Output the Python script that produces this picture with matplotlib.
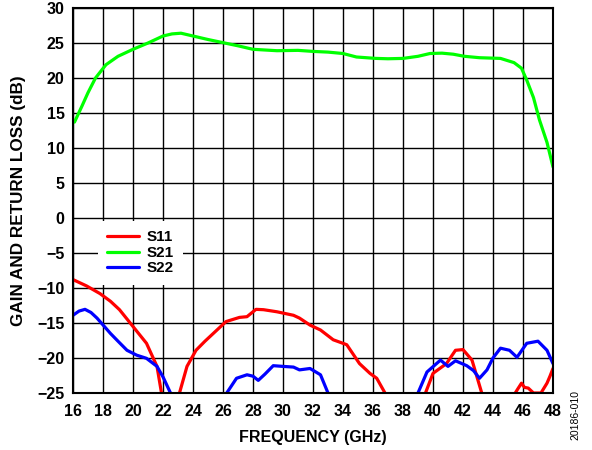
import matplotlib.pyplot as plt
import numpy as np

plt.rcParams['font.family'] = ['Liberation Sans', 'DejaVu Sans']
plt.rcParams['font.weight'] = 'bold'

# S21 gain (dB)
s21_f = [16.1, 16.6, 17.0, 17.5, 18.2, 19.0, 20.0, 21.0, 22.0, 22.6, 23.2, 24.0,
         25.0, 26.0, 27.0, 28.0, 29.6, 31.0, 32.0, 33.0, 34.0, 34.9, 36.2, 37.0,
         38.0, 39.0, 39.8, 40.6, 41.35, 42.1, 43.1, 44.5, 45.4, 45.9, 46.25, 46.7,
         47.1, 47.6, 48.0]
s21 = [13.7, 16.0, 17.9, 20.0, 21.9, 23.1, 24.1, 25.0, 26.0, 26.3, 26.4, 26.0,
       25.5, 25.05, 24.6, 24.1, 23.9, 23.95, 23.8, 23.7, 23.5, 23.0, 22.8, 22.75,
       22.8, 23.1, 23.5, 23.55, 23.4, 23.1, 22.9, 22.8, 22.2, 21.4, 19.7, 17.2,
       14.0, 10.8, 7.3]

# S11 input return loss (dB)
s11_f = [16.0, 16.9, 17.8, 18.5, 19.1, 20.0, 20.9, 21.6, 21.9, 22.5, 23.1, 23.6,
         24.2, 24.8, 25.35, 26.2, 27.1, 27.6, 28.2, 28.7, 29.6, 30.7, 31.1, 31.8,
         32.5, 33.35, 34.25, 35.1, 35.8, 36.25, 36.8, 38.2, 39.5, 40.0, 40.9, 41.5,
         42.0, 42.6, 43.25, 44.4, 45.4, 45.6, 45.9, 46.1, 46.35, 46.7, 47.2, 47.6,
         47.8, 48.0]
s11 = [-8.8, -9.7, -10.8, -11.9, -13.1, -15.5, -17.9, -21.2, -25.0, -32.0, -25.0, -21.2,
       -18.9, -17.6, -16.5, -14.8, -14.2, -14.1, -13.05, -13.1, -13.4, -13.9, -14.3, -15.3,
       -16.0, -17.4, -18.1, -20.8, -22.2, -22.9, -25.0, -32.0, -25.0, -22.2, -20.8, -18.9,
       -18.8, -20.3, -25.0, -32.0, -25.3, -24.6, -23.6, -24.2, -24.3, -25.0, -25.0, -23.6,
       -22.6, -21.5]

# S22 output return loss (dB)
s22_f = [16.0, 16.4, 16.8, 17.2, 17.6, 18.5, 19.0, 19.6, 20.25, 20.9, 21.6, 22.0,
         22.5, 24.4, 26.25, 26.9, 27.6, 28.0, 28.35, 28.8, 29.35, 30.0, 30.7, 31.1,
         31.8, 32.5, 33.0, 36.0, 39.0, 39.6, 40.5, 41.0, 41.5, 42.25, 42.7, 43.1,
         43.6, 44.0, 44.5, 45.1, 45.6, 46.25, 47.0, 47.6, 48.0]
s22 = [-13.9, -13.3, -13.05, -13.5, -14.3, -16.5, -17.6, -18.9, -19.6, -20.05, -21.2, -22.7,
       -25.0, -32.0, -25.0, -22.9, -22.4, -22.6, -23.2, -22.3, -21.1, -21.2, -21.3, -21.7,
       -21.5, -22.4, -25.0, -32.0, -25.0, -22.0, -20.3, -21.2, -20.4, -21.1, -21.8, -22.9,
       -21.7, -20.0, -18.6, -18.9, -19.9, -17.9, -17.6, -18.9, -20.8]

series = [('S11', s11_f, s11, '#ff0000'),
          ('S21', s21_f, s21, '#00ff00'),
          ('S22', s22_f, s22, '#0000ff')]

x_ticks = np.arange(16, 49, 2)
y_ticks = np.arange(-25, 31, 5)

fig = plt.figure(figsize=(5.92, 4.5), dpi=100)
ax = fig.add_axes([0.1233, 0.1267, 0.8108, 0.8555])

for name, f, v, c in series:
    ax.plot(f, v, color=c, lw=2.3, label=name, solid_capstyle='round')

ax.set_xlim(16, 48)
ax.set_ylim(-25, 30)
ax.set_xticks(x_ticks)
ax.set_yticks(y_ticks)
ax.grid(True, color='black', lw=1.0)
ax.set_axisbelow(True)
ax.tick_params(length=0, labelsize=11.5)
ax.tick_params(axis='x', pad=8)
ax.tick_params(axis='y', pad=6)
for s in ax.spines.values():
    s.set_linewidth(1.5)

ax.set_xlabel('FREQUENCY (GHz)', fontsize=11.5, fontweight='bold', labelpad=8)
ax.set_ylabel('GAIN AND RETURN LOSS (dB)', fontsize=12.3, fontweight='bold', labelpad=8)

leg = ax.legend(loc='center left', bbox_to_anchor=(0.052, 0.364), frameon=True,
                fontsize=11, handlelength=2.1, handletextpad=0.5,
                labelspacing=0.1, borderpad=0.6, borderaxespad=0)
leg.get_frame().set_edgecolor('none')
leg.get_frame().set_facecolor('white')
leg.get_frame().set_alpha(1)
leg.get_frame().set_boxstyle('square', pad=0)
for t in leg.get_texts():
    t.set_fontweight('bold')

fig.text(0.972, 0.078, '20186-010', rotation=90, fontsize=7.5, fontweight='normal',
         ha='center', va='center')

plt.savefig('out.png', dpi=100)
